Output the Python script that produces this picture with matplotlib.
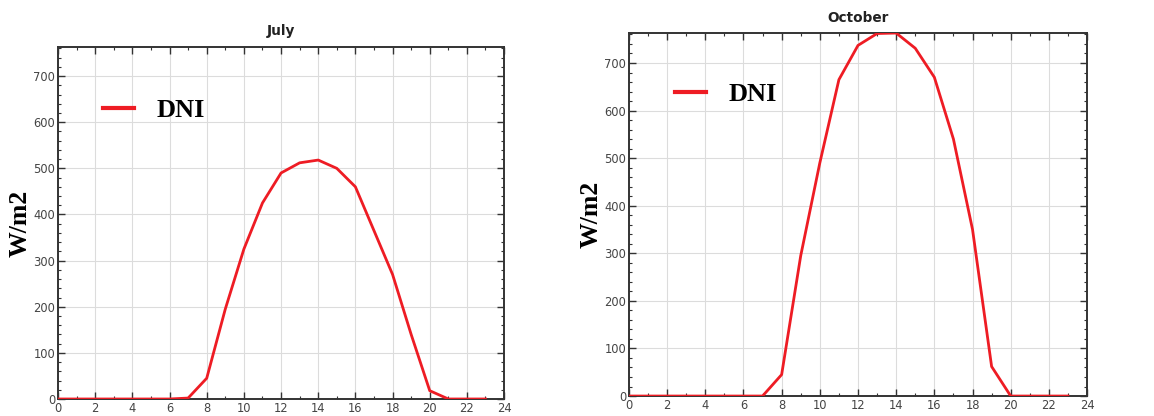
import numpy as np
import matplotlib
matplotlib.use("Agg")
import matplotlib.pyplot as plt
from matplotlib.ticker import MultipleLocator

hours = list(range(24))

# DNI values (W/m2)
july_dni = [0, 0, 0, 0, 0, 0, 0, 2, 45, 195, 325, 425, 490, 512, 518, 500,
            460, 365, 270, 140, 18, 0, 0, 0]
october_dni = [0, 0, 0, 0, 0, 0, 0, 0, 45, 295, 490, 665, 737, 762, 763, 731,
               670, 540, 350, 62, 0, 0, 0, 0]

titles = ["July", "October"]
series = [july_dni, october_dni]

fig = plt.figure(figsize=(11.54, 4.16), dpi=100)
positions = [[0.0503, 0.0409, 0.3865, 0.846],
             [0.545, 0.048, 0.397, 0.8726]]
legend_y = [0.82, 0.832]
title_pad = [9, 8]

for pos, title, vals, ly, tp in zip(positions, titles, series, legend_y, title_pad):
    ax = fig.add_axes(pos)
    ax.plot(hours, vals, color="#ee1c24", lw=2, label="DNI", zorder=3)
    ax.set_xlim(0, 24)
    ax.set_ylim(0, 763)
    ax.xaxis.set_major_locator(MultipleLocator(2))
    ax.xaxis.set_minor_locator(MultipleLocator(1))
    ax.yaxis.set_major_locator(MultipleLocator(100))
    ax.yaxis.set_minor_locator(MultipleLocator(20))
    ax.grid(True, which="major", color="#dcdcdc", lw=0.8)
    ax.tick_params(which="both", direction="in", top=True, right=True,
                   colors="#333333", labelsize=8.3, labelcolor="#444444")
    ax.tick_params(which="major", length=5, width=1)
    ax.tick_params(which="minor", length=2.5, width=0.8)
    ax.tick_params(axis="x", pad=2)
    ax.tick_params(axis="y", pad=2)
    for s in ax.spines.values():
        s.set_color("#333333")
        s.set_linewidth(1.4)
    ax.set_title(title, fontsize=9.8, fontweight="bold", color="#222222", pad=tp)
    ax.set_ylabel("W/m2", fontsize=18.5, fontweight="bold",
                  family="Liberation Serif", labelpad=1)
    leg = ax.legend(loc="center left", bbox_to_anchor=(0.1, ly), frameon=False,
                    borderpad=0, borderaxespad=0, handlelength=1.17,
                    handletextpad=0.87,
                    prop={"family": "Liberation Serif", "weight": "bold", "size": 19})
    for h in leg.get_lines():
        h.set_linewidth(3)

fig.savefig("out.png", dpi=100)
